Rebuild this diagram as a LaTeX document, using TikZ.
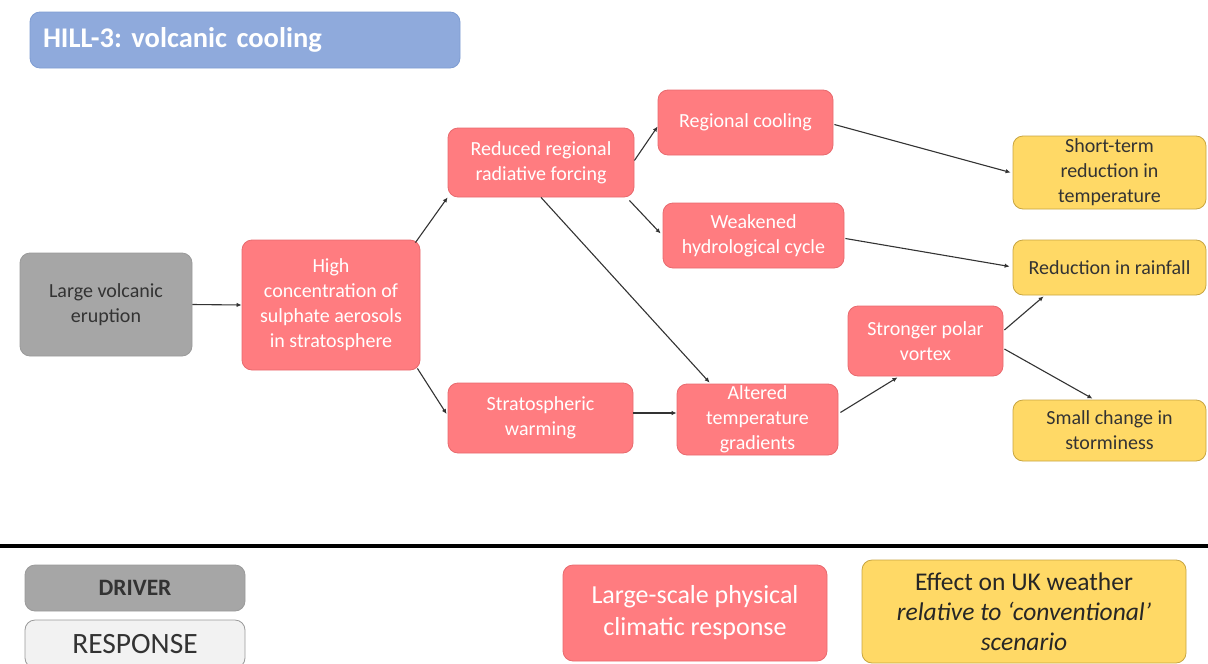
\documentclass[tikz,border=0pt]{standalone}
\usepackage{fontspec}
\setmainfont{Carlito}
\frenchspacing
\usetikzlibrary{arrows.meta,calc}
\definecolor{redfill}{HTML}{FF7C80}
\definecolor{redline}{HTML}{E86A6E}
\definecolor{grayfill}{HTML}{A6A6A6}
\definecolor{grayline}{HTML}{9A9A9A}
\definecolor{yelfill}{HTML}{FFD966}
\definecolor{yelline}{HTML}{C8A540}
\definecolor{bluefill}{HTML}{8FAADC}
\definecolor{blueline}{HTML}{7E9CD2}
\definecolor{darktext}{HTML}{333333}
\definecolor{respfill}{HTML}{F2F2F2}
\tikzset{
  basebox/.style={rounded corners=10pt, line width=0.8pt, align=center, inner sep=2pt,
    font=\fontsize{20}{25}\selectfont},
  redbox/.style={basebox, fill=redfill, draw=redline, text=white},
  graybox/.style={basebox, fill=grayfill, draw=grayline, text=darktext},
  yelbox/.style={basebox, fill=yelfill, draw=yelline, text=darktext},
  conn/.style={line width=1.1pt, draw=darktext, -{Latex[length=5pt,width=4.5pt]}},
}
\begin{document}
\begin{tikzpicture}[x=1pt,y=-1pt]
\useasboundingbox (0,0) rectangle (1208,664);
% title
\node[rounded corners=10pt, fill=bluefill, draw=blueline, line width=0.8pt,
  minimum width=430pt, minimum height=56pt, text width=404pt, align=left,
  text=white, font=\fontsize{28.5}{34}\selectfont\bfseries] (title) at (245,40) {HILL-3: volcanic cooling};
% nodes
\node[graybox, minimum width=172pt, minimum height=103pt] (erupt) at (106,304.5) {Large volcanic\\eruption};
\node[redbox, minimum width=178pt, minimum height=130pt] (high) at (331,305) {High\\concentration of\\sulphate aerosols\\in stratosphere};
\node[redbox, minimum width=186pt, minimum height=69pt] (reduced) at (541,162.5) {Reduced regional\\radiative forcing};
\node[redbox, minimum width=175pt, minimum height=65pt] (regcool) at (745.5,122.5) {Regional cooling};
\node[redbox, minimum width=181pt, minimum height=65pt] (weak) at (753.5,235.5) {Weakened\\hydrological cycle};
\node[redbox, minimum width=185pt, minimum height=70pt] (strat) at (540.5,418) {Stratospheric\\warming};
\node[redbox, minimum width=161pt, minimum height=71pt, inner sep=0pt] (alter) at (757.5,419.5) {Altered\\temperature\\gradients};
\node[redbox, minimum width=155pt, minimum height=70pt] (polar) at (925.5,341) {Stronger polar\\vortex};
\node[yelbox, minimum width=193pt, minimum height=73pt] (short) at (1109.5,172.5) {Short-term\\reduction in\\temperature};
\node[yelbox, minimum width=193pt, minimum height=55pt] (rain) at (1109.5,267.5) {Reduction in rainfall};
\node[yelbox, minimum width=193pt, minimum height=61pt] (storm) at (1109.5,430.5) {Small change in\\storminess};
% connectors
\draw[conn] (erupt.east) -- (high.west);
\draw[conn] ($(high.north east)+(-5,3)$) -- (reduced.south west);
\draw[conn] ($(reduced.east)+(0,-2)$) -- ($(regcool.west)+(0,4)$);
\draw[conn] ($(reduced.south east)+(-5,3)$) -- ($(weak.west)+(-2,-2)$);
\draw[conn] (reduced.south) -- ($(alter.north west)+(33,-1)$);
\draw[conn] ($(high.south east)+(-3,-2)$) -- ($(strat.west)+(-1,-4)$);
\draw[conn] ($(strat.east)+(0,-5)$) -- ($(alter.west)+(0,-6.5)$);
\draw[conn] ($(alter.east)+(2,-7)$) -- ($(polar.south)+(-28,1)$);
\draw[conn] ($(polar.east)+(1,-11)$) -- ($(rain.south west)+(31,1)$);
\draw[conn] ($(polar.east)+(1,8)$) -- ($(storm.north)+(-17,-1)$);
\draw[conn] ($(regcool.east)+(1,2)$) -- ($(short.west)+(-2,0)$);
\draw[conn] ($(weak.east)+(1,3)$) -- ($(rain.west)+(-3,-1)$);
% separator
\coordinate (sepL) at (0,546);
\coordinate (sepR) at (1208,546);
\draw[line width=4pt, black] (sepL) -- (sepR);
% legend
\node[graybox, minimum width=220pt, minimum height=46pt, font=\fontsize{23.5}{27}\selectfont\bfseries] (driver) at (135,588) {DRIVER};
\node[basebox, fill=respfill, draw=grayline, text=darktext, minimum width=220pt, minimum height=48pt, font=\fontsize{29.5}{33}\selectfont] (response) at (135,644) {RESPONSE};
\node[redbox, minimum width=264pt, minimum height=96pt, font=\fontsize{26}{32}\selectfont] (phys) at (695,613) {Large-scale physical\\climatic response};
\node[yelbox, minimum width=324pt, minimum height=103pt, font=\fontsize{25.5}{30}\selectfont, text=black!85] (effect) at (1024,611.5) {Effect on UK weather\\\textit{relative to ‘conventional’}\\\textit{scenario}};
\end{tikzpicture}
\end{document}
